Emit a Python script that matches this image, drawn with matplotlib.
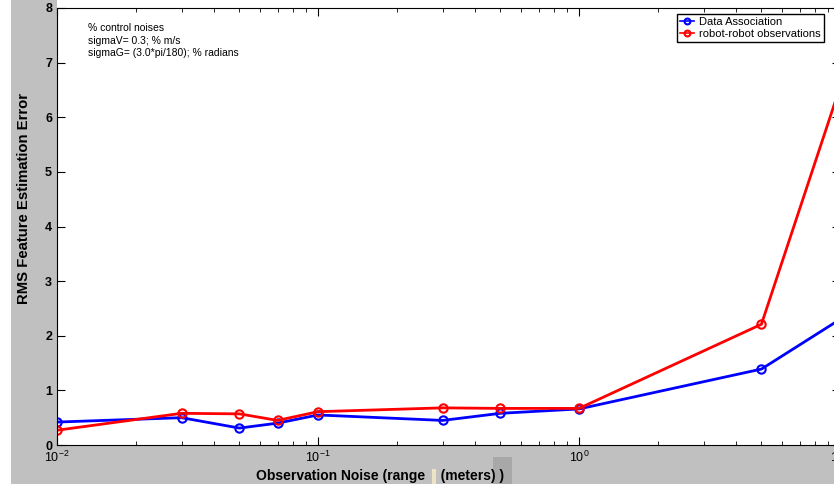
import numpy as np
import matplotlib
matplotlib.use("Agg")
import matplotlib.pyplot as plt
from matplotlib.patches import Rectangle

plt.rcParams['font.family'] = ['Liberation Sans', 'DejaVu Sans']

noise = [0.01, 0.03, 0.05, 0.07, 0.1, 0.3, 0.5, 1.0, 5.0, 10.0]
data_assoc = [0.42, 0.50, 0.31, 0.40, 0.55, 0.45, 0.58, 0.66, 1.39, 2.30]
robot_obs = [0.27, 0.58, 0.57, 0.45, 0.61, 0.68, 0.67, 0.67, 2.21, 6.55]

W, H = 834, 484
fig = plt.figure(figsize=(W / 100, H / 100), dpi=100, facecolor='white')

# matlab figure background (grey), cropped screenshot
fig.patches.append(Rectangle((11 / W, 0), 1, 1, transform=fig.transFigure,
                             facecolor='#c0c0c0', edgecolor='none', zorder=-10))
fig.patches.append(Rectangle((57 / W, 1 - 8 / H), 1, 8 / H, transform=fig.transFigure,
                             facecolor='white', edgecolor='none', zorder=-9))
fig.patches.append(Rectangle((493 / W, 0), 19 / W, 27 / H, transform=fig.transFigure,
                             facecolor='#a8a8a8', edgecolor='none', zorder=-8))
fig.patches.append(Rectangle((432 / W, 0), 4 / W, 15 / H, transform=fig.transFigure,
                             facecolor='#ece4c4', edgecolor='none', zorder=-7))

ax = fig.add_axes([57 / W, 1 - 445 / H, 783 / W, 437 / H])
ax.plot(noise, data_assoc, '-o', color='#0000ff', lw=2, ms=6, mfc='none', mew=1.5,
        label='Data Association')
ax.plot(noise, robot_obs, '-o', color='#ff0000', lw=2, ms=6, mfc='none', mew=1.5,
        label='robot-robot observations')

ax.set_xscale('log')
ax.set_xlim(0.01, 10)
ax.set_ylim(0, 8)
ax.set_yticks(range(0, 9))
ax.tick_params(which='both', direction='in', top=True, right=True, labelsize=9)
ax.tick_params(which='major', length=6)
ax.tick_params(which='minor', length=3)
for lab in ax.get_yticklabels():
    lab.set_fontweight('bold')

ax.set_ylabel('RMS Feature Estimation Error', fontsize=10.7, fontweight='bold')
ax.yaxis.set_label_coords(-0.033, 0.565)
ax.set_xlabel('Observation Noise (range    (meters) )', fontsize=10, fontweight='bold')
ax.xaxis.set_label_coords(0.4125, -0.055)

ax.text(0.04, 0.966, '% control noises\nsigmaV= 0.3; % m/s\nsigmaG= (3.0*pi/180); % radians',
        transform=ax.transAxes, fontsize=7.5, va='top', ha='left', linespacing=1.35)

leg = ax.legend(loc='upper right', bbox_to_anchor=(0.98, 0.987), fontsize=8,
                fancybox=False, edgecolor='black', framealpha=1, borderpad=0.3,
                borderaxespad=0, handlelength=1.3, handletextpad=0.45,
                labelspacing=0.15, markerscale=0.7)
leg.get_frame().set_linewidth(1.0)
for h in leg.legend_handles:
    h.set_linewidth(1.2)

fig.savefig('out.png', dpi=100, facecolor=fig.get_facecolor())
